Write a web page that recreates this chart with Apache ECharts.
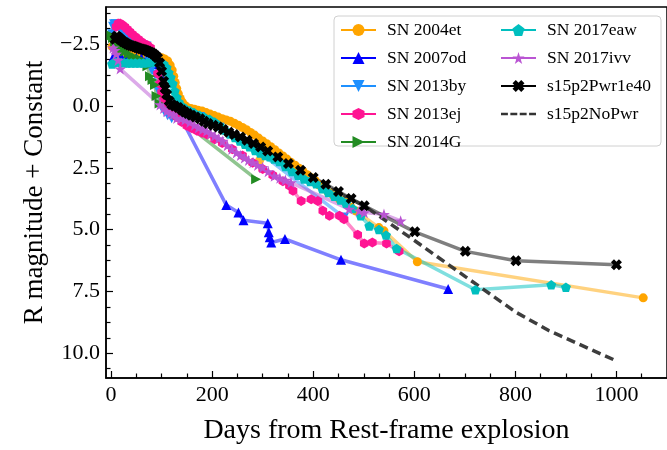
<!DOCTYPE html>
<html>
<head>
<meta charset="utf-8">
<script src="https://cdn.jsdelivr.net/npm/echarts@6/dist/echarts.min.js"></script>
<style>
  html, body { margin: 0; padding: 0; background: #fff; }
  #chart { width: 667px; height: 450px; }
</style>
</head>
<body>
<div id="chart"></div>
<script>
// tick positions / labels
const xMajorTicks = [0, 200, 400, 600, 800, 1000];
const xMinorTicks = [50, 100, 150, 250, 300, 350, 450, 500, 550, 650, 700, 750, 850, 900, 950, 1050];
const yMajorTicks = [-2.5, 0, 2.5, 5, 7.5, 10];
const yMinorTicks = [-3.75, -3.125, -1.875, -1.25, -0.625, 0.625, 1.25, 1.875, 3.125, 3.75, 4.375,
  5.625, 6.25, 6.875, 8.125, 8.75, 9.375, 10.625];

// [day, R mag + const]
const sn2004et = [[2, -2.4], [6, -2.4], [9, -2.35], [13, -2.3], [17, -2.25], [21, -2.2], [26, -2.2], [31, -2.17],
  [36, -2.15], [41, -2.15], [46, -2.12], [52, -2.1], [58, -2.08], [64, -2.05], [70, -2.03], [76, -2.0], [82, -2.0],
  [88, -1.98], [94, -1.98], [100, -1.95], [106, -1.9], [112, -1.82], [117, -1.65], [121, -1.45], [124, -1.2],
  [127, -0.95], [130, -0.7], [133, -0.5], [137, -0.3], [141, -0.15], [146, -0.02], [152, 0.07], [158, 0.1],
  [165, 0.13], [172, 0.17], [180, 0.2], [188, 0.27], [196, 0.33], [204, 0.39], [212, 0.45], [220, 0.52],
  [228, 0.57], [236, 0.62], [244, 0.7], [252, 0.78], [260, 0.87], [268, 0.96], [276, 1.07], [284, 1.18],
  [292, 1.3], [300, 1.42], [308, 1.53], [316, 1.65], [324, 1.77], [332, 1.9], [340, 2.02], [348, 2.15],
  [356, 2.28], [364, 2.4], [372, 2.52], [380, 2.65], [388, 2.78], [396, 2.9], [404, 3.02], [412, 3.2],
  [420, 3.35], [430, 3.5], [440, 3.62], [452, 3.77], [464, 3.9], [475, 4.1], [485, 4.25], [530, 4.92],
  [540, 5.05], [606, 6.3], [1053, 7.76]];
const sn2004etExtra = [[294, 2.2]];
const sn2007od = [[5, -2.0], [10, -2.0], [20, -1.98], [30, -1.97], [40, -1.96], [50, -1.95], [60, -1.93],
  [70, -1.9], [80, -1.85], [90, -1.7], [97, -1.47], [103, -1.0], [110, -0.5], [118, -0.15], [126, 0.0],
  [228, 4.01], [252, 4.31], [262, 4.62], [310, 4.74], [312, 5.11], [314, 5.31], [317, 5.52], [344, 5.38],
  [455, 6.22], [667, 7.4]];
const sn2013by = [[2, -2.9], [4, -3.2], [6, -3.3], [9, -3.3], [12, -3.25], [16, -3.15], [20, -3.05], [25, -2.95],
  [30, -2.85], [36, -2.75], [42, -2.7], [48, -2.6], [55, -2.5], [62, -2.45], [70, -2.4], [76, -1.8], [80, -1.47],
  [87, -1.27], [94, -0.6], [100, 0.05], [106, 0.25], [112, 0.38], [120, 0.5], [176, 0.45], [215, 0.88],
  [284, 1.73], [461, 4.51]];
const sn2013ej = [[10, -3.2], [14, -3.33], [18, -3.33], [22, -3.28], [27, -3.2], [32, -3.1], [37, -3.0],
  [42, -2.9], [48, -2.8], [54, -2.7], [60, -2.6], [66, -2.5], [72, -2.45], [78, -2.35], [84, -2.1], [88, -1.8],
  [92, -1.3], [96, -0.9], [100, -0.55], [104, -0.3], [110, -0.05], [120, 0.2], [130, 0.45], [140, 0.65],
  [150, 0.8], [160, 0.9], [170, 1.0], [180, 1.08], [190, 1.15], [205, 1.35], [220, 1.5], [240, 1.75],
  [260, 2.0], [280, 2.3], [300, 2.55], [320, 2.8], [340, 3.05], [353, 3.23], [360, 3.43], [376, 3.84],
  [396, 3.77], [409, 3.84], [419, 4.24], [432, 4.44], [452, 4.44], [461, 4.58], [488, 5.21], [501, 5.56],
  [517, 5.52], [545, 5.56], [570, 5.88]];
const sn2014G = [[1, -2.85], [4, -2.75], [8, -2.6], [12, -2.5], [16, -2.4], [22, -2.3], [28, -2.2], [35, -2.1],
  [42, -2.0], [50, -1.95], [58, -1.9], [66, -1.8], [72, -1.6], [77, -1.2], [82, -1.05], [87, -0.85], [90, -0.4],
  [96, -0.1], [287, 2.96]];
const sn2017eaw = [[2, -1.7], [5, -1.75], [9, -1.78], [14, -1.78], [20, -1.76], [26, -1.75], [32, -1.74],
  [40, -1.74], [48, -1.74], [56, -1.74], [64, -1.74], [72, -1.75], [80, -1.78], [88, -1.8], [96, -1.78],
  [104, -1.7], [110, -1.55], [114, -1.35], [118, -1.15], [122, -0.9], [126, -0.6], [130, -0.35], [134, -0.15],
  [140, 0.0], [148, 0.12], [156, 0.2], [164, 0.27], [175, 0.38], [185, 0.46], [195, 0.54], [205, 0.65],
  [215, 0.8], [225, 0.97], [235, 1.13], [245, 1.28], [255, 1.42], [265, 1.55], [274, 1.65], [285, 1.8],
  [295, 1.9], [305, 2.0], [314, 2.05], [323, 2.15], [333, 2.25], [345, 2.45], [358, 2.65], [370, 2.8],
  [382, 2.95], [394, 3.05], [406, 3.15], [418, 3.35], [430, 3.5], [442, 3.65], [454, 3.8], [465, 3.93],
  [478, 4.15], [494, 4.44], [511, 4.85], [530, 5.0], [544, 5.22], [565, 5.76], [721, 7.43], [871, 7.23],
  [900, 7.33]];
const sn2017ivv = [[4, -2.35], [7, -2.25], [10, -2.1], [14, -1.85], [18, -1.5], [97, -0.05], [104, 0.1],
  [110, 0.22], [117, 0.3], [123, 0.35], [130, 0.5], [138, 0.52], [146, 0.57], [156, 0.66], [165, 0.78],
  [173, 0.88], [181, 0.95], [189, 1.02], [197, 1.12], [205, 1.22], [213, 1.32], [221, 1.42], [230, 1.6],
  [239, 1.75], [248, 1.89], [256, 2.0], [264, 2.1], [272, 2.2], [281, 2.29], [290, 2.4], [300, 2.49],
  [311, 2.65], [323, 2.83], [334, 2.92], [345, 3.0], [356, 3.1], [471, 4.17], [491, 4.24], [501, 4.31],
  [540, 4.38], [573, 4.65]];
const s15p2Pwr1e40 = [[8, -2.7], [11, -2.82], [14, -2.78], [17, -2.72], [20, -2.67], [24, -2.6], [28, -2.55],
  [32, -2.5], [36, -2.46], [40, -2.43], [44, -2.41], [48, -2.38], [52, -2.35], [56, -2.32], [60, -2.3],
  [64, -2.28], [68, -2.25], [72, -2.22], [76, -2.18], [80, -2.15], [84, -2.1], [88, -2.03], [92, -1.95],
  [96, -1.75], [100, -1.4], [104, -1.0], [107, -0.7], [110, -0.46], [115, -0.2], [120, -0.06], [126, 0.0],
  [133, 0.06], [140, 0.16], [146, 0.25], [152, 0.31], [159, 0.38], [167, 0.45], [176, 0.52], [184, 0.62],
  [192, 0.71], [202, 0.78], [212, 0.85], [222, 0.95], [233, 1.06], [244, 1.16], [256, 1.26], [269, 1.39],
  [282, 1.52], [296, 1.66], [310, 1.82], [330, 2.06], [351, 2.33], [375, 2.6], [400, 2.89], [425, 3.17],
  [450, 3.46], [475, 3.74], [501, 4.04], [601, 5.09], [701, 5.88], [801, 6.26], [1000, 6.42]];
const s15p2NoPwr = [[8, -2.7], [11, -2.82], [20, -2.67], [32, -2.5], [44, -2.41], [60, -2.3], [72, -2.22],
  [84, -2.1], [92, -1.95], [96, -1.75], [100, -1.4], [104, -1.0], [110, -0.46], [120, -0.06], [133, 0.06],
  [146, 0.25], [159, 0.38], [176, 0.52], [192, 0.71], [212, 0.85], [233, 1.06], [256, 1.26], [282, 1.52],
  [310, 1.82], [351, 2.33], [400, 2.92], [450, 3.52], [501, 4.04], [601, 5.45], [701, 6.9], [801, 8.34],
  [866, 9.08], [1000, 10.31]];

const FONT = 'Liberation Serif';
const hexagon = 'path://M0,-1 L0.866,-0.5 L0.866,0.5 L0,1 L-0.866,0.5 L-0.866,-0.5 Z';
const pentagon = 'path://M0,-1 L0.951,-0.309 L0.588,0.809 L-0.588,0.809 L-0.951,-0.309 Z';
const star = 'path://M0,-1 L0.2245,-0.309 L0.951,-0.309 L0.363,0.118 L0.588,0.809 L0,0.382 L-0.588,0.809 L-0.363,0.118 L-0.951,-0.309 L-0.2245,-0.309 Z';
const xMark = 'path://M-1,-0.45 L-0.45,-1 L0,-0.55 L0.45,-1 L1,-0.45 L0.55,0 L1,0.45 L0.45,1 L0,0.55 L-0.45,1 L-1,0.45 L-0.55,0 Z';
const dashIcon = 'path://M0,0h7v2.6h-7zM9.5,0h7v2.6h-7zM19,0h7v2.6h-7zM28.5,0h7v2.6h-7z';

function lineSeries(name, data, color, symbol, size, rotate) {
  return {
    name: name,
    type: 'line',
    data: data,
    symbol: symbol,
    symbolSize: size,
    symbolRotate: rotate || 0,
    symbolKeepAspect: true,
    showAllSymbol: true,
    lineStyle: { color: color, width: 3.5, opacity: 0.5 },
    itemStyle: { color: color, opacity: 1 },
    emphasis: { disabled: true },
    animation: false,
  };
}

const chart = echarts.init(document.getElementById('chart'));

const fmtMag = (v) => (v < 0 ? '\u2212' + Math.abs(v).toFixed(1) : v.toFixed(1));

const legendCommon = {
  orient: 'vertical',
  padding: 0,
  itemWidth: 35,
  itemHeight: 15,
  itemGap: 10,
  z: 10,
  selectedMode: false,
  lineStyle: { width: 2, opacity: 1 },
  textStyle: { fontFamily: FONT, fontSize: 17.5, color: '#000', padding: [0, 0, 0, 6], lineHeight: 15 },
};

const option = {
  backgroundColor: '#fff',
  animation: false,
  grid: {
    left: 106, right: -2, top: 7, bottom: 69.5,
    show: true, borderColor: '#000', borderWidth: 1.5, backgroundColor: 'transparent',
  },
  graphic: [{
    type: 'rect',
    z: 9,
    shape: { x: 334, y: 16, width: 327, height: 130, r: 4 },
    style: { fill: 'rgba(255,255,255,0.85)', stroke: '#d0d0d0', lineWidth: 1 },
  }],
  legend: [
    Object.assign({}, legendCommon, {
      left: 340, top: 21,
      data: ['SN 2004et', 'SN 2007od', 'SN 2013by', 'SN 2013ej', 'SN 2014G'],
    }),
    Object.assign({}, legendCommon, {
      left: 500, top: 21,
      data: ['SN 2017eaw', 'SN 2017ivv', 's15p2Pwr1e40', { name: 's15p2NoPwr', icon: dashIcon }],
    }),
  ],
  xAxis: [{
    type: 'value', min: -10, max: 1100,
    name: 'Days from Rest-frame explosion',
    nameLocation: 'middle', nameGap: 39,
    nameTextStyle: { fontFamily: FONT, fontSize: 28, color: '#000' },
    axisLine: { onZero: false, lineStyle: { color: '#000', width: 1.5 } },
    axisTick: { inside: true, length: 7, lineStyle: { color: '#000', width: 1.2 }, customValues: xMajorTicks },
    axisLabel: { customValues: xMajorTicks, formatter: (v) => String(v), fontFamily: FONT, fontSize: 22, color: '#000', margin: 6 },
    splitLine: { show: false },
  }, {
    type: 'value', min: -10, max: 1100, position: 'bottom', offset: 0,
    axisLine: { show: false, onZero: false },
    axisTick: { inside: true, length: 4.5, lineStyle: { color: '#000', width: 1.2 }, customValues: xMinorTicks },
    axisLabel: { show: false },
    splitLine: { show: false },
  }],
  yAxis: [{
    type: 'value', min: -4, max: 11, inverse: true,
    name: 'R magnitude + Constant',
    nameLocation: 'middle', nameGap: 58,
    nameTextStyle: { fontFamily: FONT, fontSize: 27, color: '#000' },
    axisLine: { onZero: false, lineStyle: { color: '#000', width: 1.5 } },
    axisTick: { inside: true, length: 7, lineStyle: { color: '#000', width: 1.2 }, customValues: yMajorTicks },
    axisLabel: { customValues: yMajorTicks, formatter: fmtMag, fontFamily: FONT, fontSize: 22, color: '#000', margin: 6 },
    splitLine: { show: false },
  }, {
    type: 'value', min: -4, max: 11, inverse: true, position: 'left', offset: 0,
    axisLine: { show: false, onZero: false },
    axisTick: { inside: true, length: 4.5, lineStyle: { color: '#000', width: 1.2 }, customValues: yMinorTicks },
    axisLabel: { show: false },
    splitLine: { show: false },
  }],
  series: [
    lineSeries('SN 2004et', sn2004et, '#FFA500', 'circle', 9),
    {
      name: 'SN 2004et', type: 'scatter', data: sn2004etExtra, symbol: 'circle', symbolSize: 9,
      itemStyle: { color: '#FFA500' }, emphasis: { disabled: true }, animation: false,
    },
    lineSeries('SN 2007od', sn2007od, '#0000FF', 'triangle', 10),
    lineSeries('SN 2013by', sn2013by, '#1E90FF', 'triangle', 10, 180),
    lineSeries('SN 2013ej', sn2013ej, '#FF1493', hexagon, 10),
    lineSeries('SN 2014G', sn2014G, '#228B22', 'triangle', 10, -90),
    lineSeries('SN 2017eaw', sn2017eaw, '#00BFBF', pentagon, 10),
    lineSeries('SN 2017ivv', sn2017ivv, '#BA55D3', star, 12),
    lineSeries('s15p2Pwr1e40', s15p2Pwr1e40, '#000000', xMark, 11),
    {
      name: 's15p2NoPwr', type: 'line', data: s15p2NoPwr, symbol: 'none',
      lineStyle: { color: '#333333', width: 3.5, type: [9, 5], opacity: 0.95 },
      itemStyle: { color: '#333333' }, emphasis: { disabled: true }, animation: false,
    },
  ],
};

chart.setOption(option);
</script>
</body>
</html>
